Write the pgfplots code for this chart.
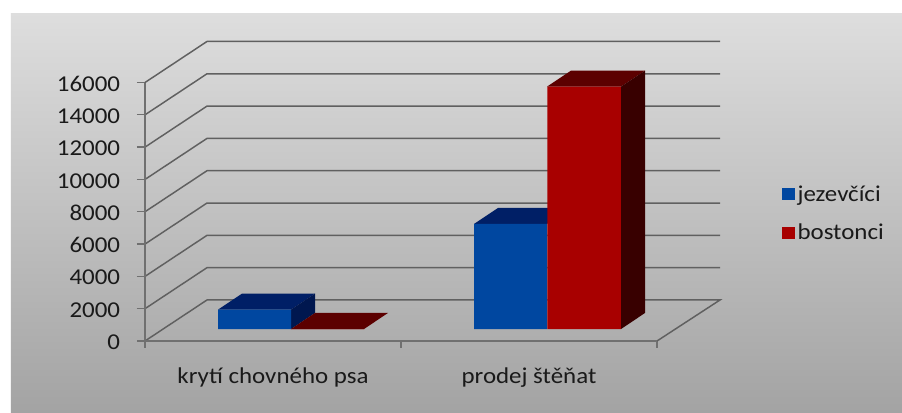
\documentclass[border=0pt]{standalone}
\usepackage{pgfplots}
\pgfplotsset{compat=1.18}
\usepackage{fontspec}
\setmainfont[FakeStretch=1.1]{Carlito}
\definecolor{gridc}{HTML}{606060}
\definecolor{axc}{HTML}{707070}
\definecolor{bluef}{HTML}{0047A0}
\definecolor{bluet}{HTML}{001F66}
\definecolor{blues}{HTML}{00174F}
\definecolor{redf}{HTML}{A80000}
\definecolor{redt}{HTML}{5C0000}
\definecolor{reds}{HTML}{380000}
\definecolor{txt}{HTML}{1A1A1A}
\begin{document}
\begin{tikzpicture}[x=0.75pt,y=0.75pt]
\path[use as bounding box] (-145,-71) rectangle (757,341);
\fill[white] (-145,-71) rectangle (757,341);
\shade[top color=black!13,bottom color=black!36,shading angle=0] (-134,-71) rectangle (757,328);
\begin{axis}[
  at={(0,0)},anchor=south west,
  scale only axis,width=384pt,height=193.875pt,
  xmin=145,xmax=657,ymin=0,ymax=16000,
  clip=false,
  axis x line*=bottom,axis y line*=left,
  axis line style={draw=none},
  tick align=outside,
  scaled y ticks=false,
  ytick={0,2000,4000,6000,8000,10000,12000,14000,16000},
  xtick={273,529},
  xticklabels={krytí chovného psa,prodej štěňat},
  major x tick style={draw=none},
  minor xtick={145,401,657},
  minor x tick style={draw=axc,line width=1pt},
  minor tick length=5pt,
  y tick style={draw=axc,line width=1pt},
  major tick length=6pt,
  /pgf/number format/assume math mode=true,
  /pgf/number format/1000 sep={},
  yticklabel style={font=\fontsize{17}{18}\selectfont,text=txt,inner sep=0pt,xshift=-12.5pt,yshift=-1pt},
  xticklabel style={font=\fontsize{17}{18}\selectfont,text=txt,yshift=-10.5pt},
]
\addplot[draw=gridc,line width=1.1pt,no markers] coordinates {(145,0)(207,2540)(720,2540)(657,0)};
\addplot[draw=gridc,line width=1.1pt,no markers] coordinates {(145,2000)(207,4540)(720,4540)};
\addplot[draw=gridc,line width=1.1pt,no markers] coordinates {(145,4000)(207,6540)(720,6540)};
\addplot[draw=gridc,line width=1.1pt,no markers] coordinates {(145,6000)(207,8540)(720,8540)};
\addplot[draw=gridc,line width=1.1pt,no markers] coordinates {(145,8000)(207,10540)(720,10540)};
\addplot[draw=gridc,line width=1.1pt,no markers] coordinates {(145,10000)(207,12540)(720,12540)};
\addplot[draw=gridc,line width=1.1pt,no markers] coordinates {(145,12000)(207,14540)(720,14540)};
\addplot[draw=gridc,line width=1.1pt,no markers] coordinates {(145,14000)(207,16540)(720,16540)};
\addplot[draw=gridc,line width=1.1pt,no markers] coordinates {(145,16000)(207,18540)(720,18540)};
\addplot[draw=axc,line width=1.2pt,no markers] coordinates {(145,16000)(145,0)(657,0)};
\end{axis}
\begin{axis}[
  at={(0,0)},anchor=south west,
  scale only axis,width=384pt,height=193.875pt,
  xmin=145,xmax=657,ymin=-743,ymax=15257,
  clip=false,hide axis,
  legend style={at={(1.244,0.493)},anchor=west,draw=none,fill=none,
    font=\fontsize{17}{18}\selectfont,text=txt,inner sep=0pt,row sep=11.5pt,
    legend cell align=left},
  legend image code/.code={\fill[#1] (0pt,-4.5pt) rectangle (9.5pt,4.5pt);},
]
% blue top and side faces
\addplot[forget plot,fill=bluet,draw=none] coordinates {(218,1200)(291,1200)(315,2191)(242,2191)} --cycle;
\addplot[forget plot,fill=blues,draw=none] coordinates {(291,0)(315,991)(315,2191)(291,1200)} --cycle;
\addplot[forget plot,fill=bluet,draw=none] coordinates {(474,6500)(547,6500)(571,7491)(498,7491)} --cycle;
% blue fronts
\addplot[ybar,bar shift=0pt,bar width=73,fill=bluef,draw=none] coordinates {(254.5,1200)(510.5,6500)};
\addlegendentry{jezevčíci}
% red top and side faces
\addplot[forget plot,fill=redt,draw=none] coordinates {(291,0)(364,0)(388,991)(315,991)} --cycle;
\addplot[forget plot,fill=redt,draw=none] coordinates {(547,15000)(621,15000)(645,15991)(571,15991)} --cycle;
\addplot[forget plot,fill=reds,draw=none] coordinates {(621,0)(645,991)(645,15991)(621,15000)} --cycle;
% red fronts
\addplot[ybar,bar shift=0pt,bar width=73.5,fill=redf,draw=none] coordinates {(327.5,0)(584,15000)};
\addlegendentry{bostonci}
\end{axis}
\end{tikzpicture}
\end{document}
